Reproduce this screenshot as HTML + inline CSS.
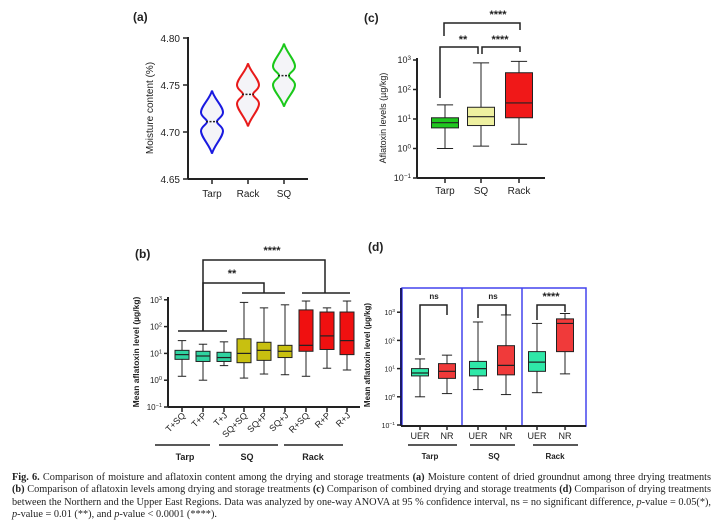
<!DOCTYPE html>
<html><head><meta charset="utf-8"><style>
body{margin:0;background:#fff;width:723px;height:528px;overflow:hidden;position:relative;font-family:"Liberation Sans",sans-serif}
svg{position:absolute;left:0;top:0}
#cap{position:absolute;left:12px;top:472px;width:699px;font-family:"Liberation Serif",serif;font-size:10.3px;line-height:12.4px;text-align:justify;color:#222}
</style></head><body>
<svg id="s" width="723" height="528"></svg>
<div id="cap"><b>Fig. 6.</b> Comparison of moisture and aflatoxin content among the drying and storage treatments <b>(a)</b> Moisture content of dried groundnut among three drying treatments <b>(b)</b> Comparison of aflatoxin levels among drying and storage treatments <b>(c)</b> Comparison of combined drying and storage treatments <b>(d)</b> Comparison of drying treatments between the Northern and the Upper East Regions. Data was analyzed by one-way ANOVA at 95 % confidence interval, ns = no significant difference, <i>p</i>-value = 0.05(*), <i>p</i>-value = 0.01 (**), and <i>p</i>-value &lt; 0.0001 (****).</div>
<script>
// Panel a data
const aCats=["Tarp","Rack","SQ"];
const aMed=[4.711,4.74,4.76];
const aMin=[4.677,4.706,4.727];
const aMax=[4.744,4.773,4.794];
const aTicks=[4.65,4.70,4.75,4.80];
// Panel c data
const cCats=["Tarp","SQ","Rack"];
const cQ1=[5,6,11];const cMed=[7.5,12,35];const cQ3=[11,25,370];const cMin=[1,1.2,1.4];const cMax=[30,800,900];
// Panel b data
const bCats=["T+SQ","T+P","T+J","SQ+SQ","SQ+P","SQ+J","R+SQ","R+P","R+J"];
const bQ1=[6,5,5,4.5,5.5,7,12,14,9];
const bMed=[9,8,7,10,13,12,20,45,30];
const bQ3=[13,12,11,35,26,20,420,350,350];
const bMin=[1.4,1,3.5,1.2,1.7,1.6,1.4,2.8,2.4];
const bMax=[30,22,27,800,500,650,900,500,900];
// Panel d data
const dCats=["UER","NR","UER","NR","UER","NR"];
const dQ1=[5.5,4.5,5.5,6,8,40];
const dMed=[7,8,10,13,17,400];
const dQ3=[10,15,18,65,40,580];
const dMin=[1,1.3,1.8,1.2,1.4,6.5];
const dMax=[22,30,450,800,400,900];
const logTicks=[-1,0,1,2,3];

const S=document.getElementById('s');const NS='http://www.w3.org/2000/svg';
function el(t,a,name,p){const e=document.createElementNS(NS,t);for(const k in a)e.setAttribute(k,a[k]);


(p||S).appendChild(e);return e;}
function txt(x,y,s,name,o){o=o||{};const e=el('text',Object.assign({x:x,y:y,'font-size':o.fs||9,'text-anchor':o.a||'middle',fill:o.fill||'#222','font-weight':o.w||'normal'},o.extra||{}),name);e.textContent=s;return e;}
function line(x1,y1,x2,y2,name,w,c){return el('line',{x1,y1,x2,y2,stroke:c||'#222','stroke-width':w||1.5},name);}
function sup(x,y,e,name,fs){const t=el('text',{x:x,y:y,'font-size':fs||8,'text-anchor':'end',fill:'#222'},name);t.textContent='10';const s=document.createElementNS(NS,'tspan');s.setAttribute('dy','-3');s.setAttribute('font-size',(fs||8)*0.7);s.textContent=e;t.appendChild(s);}

// ---- Panel a ----
const ay=v=>179-(v-4.65)/0.05*47;
txt(133,21,"(a)","panel-a-label",{fs:12,w:'bold',a:'start'});
line(188,37,188,179,"a-y-axis",2);line(188,179,308,179,"a-x-axis",2);
aTicks.forEach(t=>{line(183,ay(t),188,ay(t),"a-y-tick",1.5);txt(180,ay(t)+4,t.toFixed(2),"a-y-tick-label",{fs:10,a:'end'});});
txt(0,0,"Moisture content (%)","a-y-axis-title",{fs:10,extra:{transform:'translate(153,108) rotate(-90)'}});
const aX=[212,248,284],aCol=['#1a1ae0','#e81a1a','#1ac81a'];
aCats.forEach((c,i)=>{const x=aX[i];line(x,179,x,184,"a-x-tick",1.5);txt(x,197,c,"a-x-label",{fs:10});
const m=aMed[i],top=ay(aMax[i]),bot=ay(aMin[i]),my=ay(m),h=11;
const u=ay(m+0.01),l=ay(m-0.01);
const d=`M${x},${top} C${x+2},${top+8} ${x+h},${u-6} ${x+h},${u} C${x+h},${u+5} ${x+h*0.45},${my-3} ${x+h*0.45},${my} C${x+h*0.45},${my+3} ${x+h},${l-5} ${x+h},${l} C${x+h},${l+6} ${x+2},${bot-8} ${x},${bot} C${x-2},${bot-8} ${x-h},${l+6} ${x-h},${l} C${x-h},${l-5} ${x-h*0.45},${my+3} ${x-h*0.45},${my} C${x-h*0.45},${my-3} ${x-h},${u+5} ${x-h},${u} C${x-h},${u-6} ${x-2},${top+8} ${x},${top}Z`;
el('path',{d,fill:'#f4f4f8',stroke:aCol[i],'stroke-width':2},"violin-"+c.toLowerCase());
line(x-6,my,x+6,my,"violin-median",1.5,'#222').setAttribute('stroke-dasharray','2,1.5');});

// ---- box helper ----
function boxes(yf,xs,w,q1,med,q3,mn,mx,cols,prefix){xs.forEach((x,i)=>{
line(x,yf(mx[i]),x,yf(mn[i]),prefix+"-whisker",1);
line(x-w*0.3,yf(mx[i]),x+w*0.3,yf(mx[i]),prefix+"-cap",1);line(x-w*0.3,yf(mn[i]),x+w*0.3,yf(mn[i]),prefix+"-cap",1);
el('rect',{x:x-w/2,y:yf(q3[i]),width:w,height:yf(q1[i])-yf(q3[i]),fill:cols[i],stroke:'#222','stroke-width':1},prefix+"-box");
line(x-w/2,yf(med[i]),x+w/2,yf(med[i]),prefix+"-median",1.2);});}
function logAxis(x0,yf,name,fs){logTicks.forEach(t=>{line(x0-4,yf(Math.pow(10,t)),x0,yf(Math.pow(10,t)),name+"-tick",1.5);sup(x0-6,yf(Math.pow(10,t))+3,String(t).replace('-','−'),name+"-tick-label",fs);});}
function bracket(x1,x2,y,d1,d2,label,lx,ly,name){el('path',{d:`M${x1},${d1} L${x1},${y} L${x2},${y} L${x2},${d2}`,fill:'none',stroke:'#222','stroke-width':1.5},name);txt(lx,ly,label,name+"-label",{fs:label=='ns'?8:11,w:'bold'});}

// ---- Panel c ----
const cy=v=>178-(Math.log10(v)+1)*29.5;
txt(364,22,"(c)","panel-c-label",{fs:12,w:'bold',a:'start'});
line(417,58,417,178,"c-y-axis",2);line(417,178,545,178,"c-x-axis",2);
logAxis(417,cy,"c-y",9);
txt(0,0,"Aflatoxin levels (µg/kg)","c-y-axis-title",{fs:9,extra:{transform:'translate(386,118) rotate(-90)'}});
const cX=[445,481,519];
cCats.forEach((c,i)=>{line(cX[i],178,cX[i],183,"c-x-tick",1.5);txt(cX[i],194,c,"c-x-label",{fs:10});});
boxes(cy,cX,27,cQ1,cMed,cQ3,cMin,cMax,['#1fc81f','#eef0a0','#f01818'],"c");
bracket(444,520,23,36,30,"****",498,18,"c-bracket-tarp-rack");
bracket(440,478,47,98,54,"**",463,43,"c-bracket-tarp-sq");
bracket(482,520,47,54,52,"****",500,43,"c-bracket-sq-rack");

// ---- Panel b ----
const by=v=>407-(Math.log10(v)+1)*26.8;
txt(135,258,"(b)","panel-b-label",{fs:12,w:'bold',a:'start'});
line(168,297,168,407,"b-y-axis",2);line(168,407,360,407,"b-x-axis",2);
logAxis(168,by,"b-y",8);
txt(0,0,"Mean aflatoxin level (µg/kg)","b-y-axis-title",{fs:8.5,w:'bold',extra:{transform:'translate(139,352) rotate(-90)'}});
const bX=[182,203,224,244,264,285,306,327,347];
const bCol=['#2fd3a0','#2fd3a0','#2fd3a0','#c8c010','#c8c010','#c8c010','#f01010','#f01010','#f01010'];
bCats.forEach((c,i)=>{line(bX[i],407,bX[i],412,"b-x-tick",1.5);txt(0,0,c,"b-x-label",{fs:9,a:'end',extra:{transform:`translate(${bX[i]+4},416) rotate(-45)`}});});
boxes(by,bX,14,bQ1,bMed,bQ3,bMin,bMax,bCol,"b");
[[155,210,185,"Tarp"],[219,278,247,"SQ"],[284,343,313,"Rack"]].forEach(g=>{line(g[0],445,g[1],445,"b-group-line",1.5);txt(g[2],460,g[3],"b-group-label",{fs:9,w:'bold'});});
line(178,331,227,331,"b-tarp-group-bar",1.5);line(242,293,285,293,"b-sq-group-bar",1.5);line(302,293,350,293,"b-rack-group-bar",1.5);
bracket(203,325,260,331,293,"****",272,254,"b-bracket-tarp-rack");
bracket(203,264,283,331,293,"**",232,277,"b-bracket-tarp-sq");

// ---- Panel d ----
const dy=v=>425-(Math.log10(v)+1)*28.2;
txt(368,251,"(d)","panel-d-label",{fs:12,w:'bold',a:'start'});
el('rect',{x:402,y:288,width:184,height:138,fill:'none',stroke:'#4444ee','stroke-width':1.5},"d-frame");
line(462,288,462,426,"d-divider",1.5,'#4444ee');line(522,288,522,426,"d-divider",1.5,'#4444ee');
line(401,288,401,426,"d-y-axis",2,'#1a1a6a');line(401,426,586,426,"d-x-axis",2);
logAxis(401,dy,"d-y",7);
txt(0,0,"Mean aflatoxin level (µg/kg)","d-y-axis-title",{fs:8,w:'bold',extra:{transform:'translate(370,355) rotate(-90)'}});
const dX=[420,447,478,506,537,565];
const dCol=['#2fe8a8','#f03a3a','#2fe8a8','#f03a3a','#2fe8a8','#f03a3a'];
dCats.forEach((c,i)=>{line(dX[i],426,dX[i],430,"d-x-tick",1.5);txt(dX[i],439,c,"d-x-label",{fs:9});});
boxes(dy,dX,17,dQ1,dMed,dQ3,dMin,dMax,dCol,"d");
[[408,457,430,"Tarp"],[470,515,494,"SQ"],[533,578,555,"Rack"]].forEach(g=>{line(g[0],445,g[1],445,"d-group-line",1.5);txt(g[2],459,g[3],"d-group-label",{fs:8,w:'bold'});});
bracket(420,447,305,355,315,"ns",434,299,"d-bracket-tarp");
bracket(478,506,305,318,315,"ns",493,299,"d-bracket-sq");
bracket(537,565,305,320,312,"****",551,300,"d-bracket-rack");
</script>
</body></html>
